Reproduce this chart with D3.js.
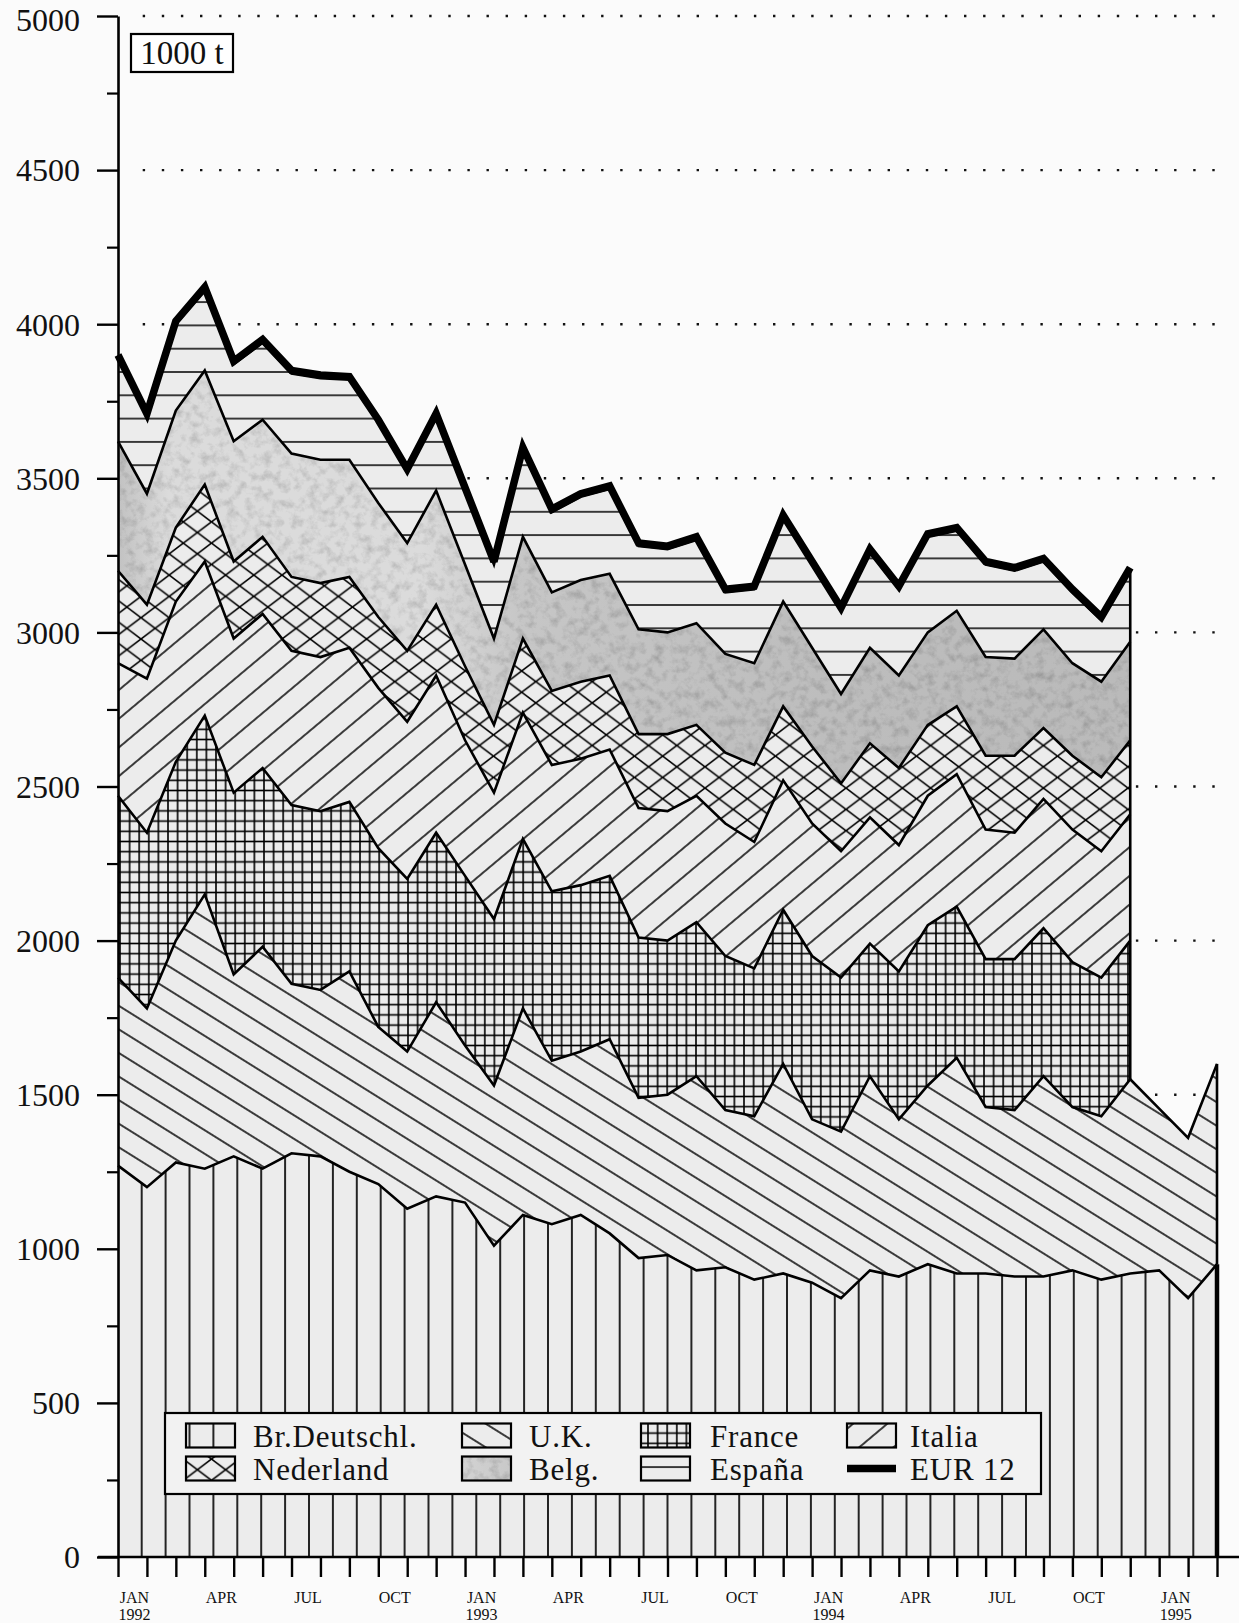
<!DOCTYPE html>
<html>
<head>
<meta charset="utf-8">
<script src="https://cdn.jsdelivr.net/npm/d3@7"></script>
<style>
  html, body { margin: 0; padding: 0; background: #fbfbfb; }
  svg { display: block; }
  text { font-family: "Liberation Serif", "Times New Roman", serif; fill: #111; }
</style>
</head>
<body>
<div id="chart"></div>
<script>
// monthly values, JAN 1992 .. MAR 1995 (1000 t)
const brDeutschl = [1270,1200,1280,1260,1300,1260,1310,1300,1250,1210,1130,1170,1150,1010,1110,1080,1110,1050,970,980,930,940,900,920,890,840,930,910,950,920,920,910,910,930,900,920,930,840,950];
const uk = [610,580,720,890,590,720,550,540,650,510,510,630,510,520,670,530,530,630,520,520,630,510,530,680,530,540,630,510,580,700,540,540,650,530,530,630,525,520,650];
const france = [590,570,580,580,590,580,580,580,550,580,560,550,550,540,550,550,540,530,520,500,500,500,480,500,530,500,430,480,520,490,480,490,480,470,450,450];
const italia = [430,500,520,500,500,500,500,500,500,520,510,510,440,410,410,410,410,410,420,420,410,430,410,420,430,410,410,410,420,430,420,410,420,430,410,410];
const nederland = [300,240,240,250,250,250,240,240,230,230,230,230,240,220,240,240,250,240,240,250,230,230,250,240,250,220,240,250,230,220,240,250,230,240,240,240];
const belg = [420,360,380,370,390,380,400,400,380,370,350,370,330,280,330,320,330,330,340,330,330,320,330,340,320,290,310,300,300,310,320,315,320,300,310,320];
const espana = [270,250,280,260,250,250,260,265,260,260,230,240,240,240,280,260,270,275,270,270,270,200,240,270,270,270,310,280,310,260,300,285,220,230,200,230];
const eur12 = [3900,3710,4010,4120,3880,3950,3850,3835,3830,3690,3530,3710,3470,3230,3600,3400,3450,3475,3290,3280,3310,3140,3150,3380,3230,3080,3270,3150,3320,3340,3230,3210,3240,3140,3050,3210];

const keys = ['de', 'uk', 'fr', 'it', 'nl', 'be', 'es'];
const labels = ['Br.Deutschl.', 'U.K.', 'France', 'Italia', 'Nederland', 'Belg.', 'España'];
const tickMonths = ['JAN', 'APR', 'JUL', 'OCT'];
const years = ['1992', '1993', '1994', '1995'];

(function () {
  const W = 1239, H = 1623;
  const values = { de: brDeutschl, uk: uk, fr: france, it: italia, nl: nederland, be: belg, es: espana };
  const nMonths = brDeutschl.length;

  const svg = d3.select('#chart').append('svg')
    .attr('width', W).attr('height', H);
  svg.append('rect').attr('width', W).attr('height', H).attr('fill', '#fbfbfb');

  const x = d3.scaleLinear().domain([0, nMonths - 1]).range([118, 1217]);
  const y = d3.scaleLinear().domain([0, 5000]).range([1557, 16]);

  // Patterns
  const defs = svg.append('defs');
  const base = '#ececec';
  function pat(id, w, h, px, py, transform) {
    const p = defs.append('pattern').attr('id', id)
      .attr('patternUnits', 'userSpaceOnUse')
      .attr('x', px).attr('y', py).attr('width', w).attr('height', h);
    if (transform) p.attr('patternTransform', transform);
    p.append('rect').attr('width', w).attr('height', h).attr('fill', base);
    return p;
  }
  const ln = (p, x1, y1, x2, y2, sw) => p.append('line')
    .attr('x1', x1).attr('y1', y1).attr('x2', x2).attr('y2', y2)
    .attr('stroke', '#000').attr('stroke-width', sw || 1.5);

  const pDe = pat('p-de', 23.9, 10, 141.7 - 11.95, 0);
  ln(pDe, 11.95, 0, 11.95, 10, 1.7);

  const pUk = pat('p-uk', 10, 20, 0, 0, 'rotate(32)');
  ln(pUk, 0, 10, 10, 10, 1.5);

  const pFr = pat('p-fr', 9.6, 10.2, 0, 0);
  ln(pFr, 4.8, 0, 4.8, 10.2, 1.6);
  ln(pFr, 0, 5.1, 9.6, 5.1, 1.6);

  const pIt = pat('p-it', 10, 22, 0, 0, 'rotate(-40)');
  ln(pIt, 0, 11, 10, 11, 1.5);

  const nw = 28.2, nh = 21.3;
  const pNl = pat('p-nl', nw, nh, 0, 0);
  ln(pNl, 0, 0, nw, nh, 1.6);
  ln(pNl, 0, nh, nw, 0, 1.6);

  const pEs = pat('p-es', 10, 23.3, 0, 372 - 11.65);
  ln(pEs, 0, 11.65, 10, 11.65, 1.5);

  const gBe = defs.append('linearGradient').attr('id', 'g-be')
    .attr('gradientUnits', 'userSpaceOnUse')
    .attr('x1', x(0)).attr('x2', x(35)).attr('y1', 0).attr('y2', 0);
  [[0, '#c2c2c2'], [0.05, '#dbdbdb'], [0.3, '#dbdbdb'], [0.4, '#c6c6c6'], [0.7, '#bdbdbd'], [1, '#bababa']]
    .forEach(s => gBe.append('stop').attr('offset', s[0]).attr('stop-color', s[1]));

  const f = defs.append('filter').attr('id', 'mottle')
    .attr('x', '0').attr('y', '0').attr('width', '100%').attr('height', '100%');
  f.append('feTurbulence').attr('type', 'fractalNoise').attr('baseFrequency', 0.11)
    .attr('numOctaves', 4).attr('seed', 7).attr('result', 'n');
  f.append('feColorMatrix').attr('in', 'n').attr('type', 'matrix')
    .attr('values', '0.7 0 0 0 0.6  0.7 0 0 0 0.6  0.7 0 0 0 0.6  0 0 0 0 1')
    .attr('result', 'tint');
  f.append('feBlend').attr('in', 'SourceGraphic').attr('in2', 'tint').attr('mode', 'multiply').attr('result', 'b');
  f.append('feComposite').attr('in', 'b').attr('in2', 'SourceGraphic').attr('operator', 'in');

  const fills = { de: 'url(#p-de)', uk: 'url(#p-uk)', fr: 'url(#p-fr)', it: 'url(#p-it)', nl: 'url(#p-nl)', be: 'url(#g-be)', es: 'url(#p-es)' };

  // Dotted gridlines
  svg.append('g').selectAll('line')
    .data(d3.range(500, 5001, 500))
    .join('line')
    .attr('x1', 142.7).attr('x2', 1230)
    .attr('y1', d => y(d)).attr('y2', d => y(d))
    .attr('stroke', '#111').attr('stroke-width', 2.4)
    .attr('stroke-dasharray', '2.4,16.7');

  // Stack
  const rows = d3.range(nMonths).map(i => {
    const r = { i };
    keys.forEach(k => { r[k] = values[k][i] !== undefined ? values[k][i] : 0; });
    return r;
  });
  const series = d3.stack().keys(keys)(rows);
  const defined = k => d => values[k][d.data.i] !== undefined;

  svg.append('g').selectAll('path')
    .data(series)
    .join('path')
    .attr('d', s => d3.area().defined(defined(s.key))
      .x(d => x(d.data.i)).y0(d => y(d[0])).y1(d => y(d[1]))(s))
    .attr('fill', s => fills[s.key])
    .attr('filter', s => s.key === 'be' ? 'url(#mottle)' : null);

  // Boundaries
  svg.append('g').selectAll('path')
    .data(series)
    .join('path')
    .attr('d', s => d3.line().defined(defined(s.key))
      .x(d => x(d.data.i)).y(d => y(d[1]))(s))
    .attr('fill', 'none').attr('stroke', '#000').attr('stroke-width', 2.6)
    .attr('stroke-linejoin', 'miter');

  // right edges
  const last = france.length - 1;
  const edges = [
    { i: last, v0: series[1][last][1], v1: series[6][last][1], w: 2.6 },
    { i: nMonths - 1, v0: series[0][nMonths - 1][1], v1: series[1][nMonths - 1][1], w: 2.6 },
    { i: nMonths - 1, v0: 0, v1: series[0][nMonths - 1][1], w: 4.5 }
  ];
  svg.append('g').selectAll('line')
    .data(edges)
    .join('line')
    .attr('x1', d => x(d.i)).attr('x2', d => x(d.i))
    .attr('y1', d => y(d.v0)).attr('y2', d => y(d.v1))
    .attr('stroke', '#000').attr('stroke-width', d => d.w);

  // EUR 12
  svg.append('path')
    .attr('d', d3.line().x((d, i) => x(i)).y(d => y(d))(eur12))
    .attr('fill', 'none').attr('stroke', '#000').attr('stroke-width', 7.5)
    .attr('stroke-linejoin', 'miter').attr('stroke-miterlimit', 3);

  // Y axis
  const yAxis = svg.append('g').attr('transform', `translate(${x(0)},0)`)
    .call(d3.axisLeft(y).tickValues(d3.range(0, 5001, 500)).tickFormat(d3.format('d'))
      .tickSize(21).tickPadding(17).tickSizeOuter(0));
  yAxis.select('.domain').attr('stroke', '#000').attr('stroke-width', 2.6);
  yAxis.selectAll('.tick line').attr('stroke', '#000').attr('stroke-width', 2.4);
  yAxis.selectAll('.tick text')
    .style('font-family', '"Liberation Serif", "Times New Roman", serif')
    .style('font-size', '32px').attr('fill', '#111')
    .attr('dy', d => d === 5000 ? '0.45em' : '0.34em');

  const yMinor = svg.append('g').attr('transform', `translate(${x(0)},0)`)
    .call(d3.axisLeft(y).tickValues(d3.range(250, 5000, 500)).tickSize(11).tickFormat(''));
  yMinor.select('.domain').remove();
  yMinor.selectAll('.tick line').attr('stroke', '#000').attr('stroke-width', 2.2);

  // X axis
  svg.append('line')
    .attr('x1', 98).attr('x2', W).attr('y1', y(0)).attr('y2', y(0))
    .attr('stroke', '#000').attr('stroke-width', 2.6);
  const xAxis = svg.append('g').attr('transform', `translate(0,${y(0)})`)
    .call(d3.axisBottom(x).tickValues(d3.range(nMonths)).tickSize(20).tickSizeOuter(0).tickFormat(''));
  xAxis.select('.domain').remove();
  xAxis.selectAll('.tick line').attr('stroke', '#000').attr('stroke-width', 2.4);

  const lab = svg.append('g').attr('text-anchor', 'middle').style('font-size', '16px');
  d3.range(0, nMonths, 3).forEach(i => {
    const m = tickMonths[(i / 3) % 4];
    lab.append('text').attr('x', x(i) + 16.5).attr('y', 1603).text(m);
    if (m === 'JAN') lab.append('text').attr('x', x(i) + 16.5).attr('y', 1620).text(years[i / 12]);
  });

  // unit box
  svg.append('rect').attr('x', 131).attr('y', 34).attr('width', 102).attr('height', 38)
    .attr('fill', '#fff').attr('stroke', '#000').attr('stroke-width', 2.2);
  svg.append('text').attr('x', 182).attr('y', 64).attr('text-anchor', 'middle')
    .style('font-size', '33px').text('1000 t');

  // Legend
  const lg = svg.append('g');
  lg.append('rect').attr('x', 165).attr('y', 1413).attr('width', 876).attr('height', 81)
    .attr('fill', '#f2f2f2').attr('stroke', '#000').attr('stroke-width', 2.2);
  const iconX = [186, 462, 641, 847];
  const textX = [253, 529, 710, 910];
  const rowY = [1435.5, 1468.5];
  const items = keys.map((k, j) => ({ k, label: labels[j] })).concat([{ k: 'eur', label: 'EUR 12' }]);
  items.forEach((it, j) => {
    const c = j % 4, r = Math.floor(j / 4);
    if (it.k === 'eur') {
      lg.append('line').attr('x1', iconX[c]).attr('x2', iconX[c] + 49)
        .attr('y1', rowY[r]).attr('y2', rowY[r])
        .attr('stroke', '#000').attr('stroke-width', 7.5);
    } else {
      lg.append('rect').attr('x', iconX[c]).attr('y', rowY[r] - 12).attr('width', 49).attr('height', 24)
        .attr('fill', fills[it.k]).attr('filter', it.k === 'be' ? 'url(#mottle)' : null);
      lg.append('rect').attr('x', iconX[c]).attr('y', rowY[r] - 12).attr('width', 49).attr('height', 24)
        .attr('fill', 'none').attr('stroke', '#000').attr('stroke-width', 2.2);
    }
    lg.append('text').attr('x', textX[c]).attr('y', rowY[r] + 11)
      .style('font-size', '31px').style('letter-spacing', '0.8px').text(it.label);
  });
})();
</script>
</body>
</html>
